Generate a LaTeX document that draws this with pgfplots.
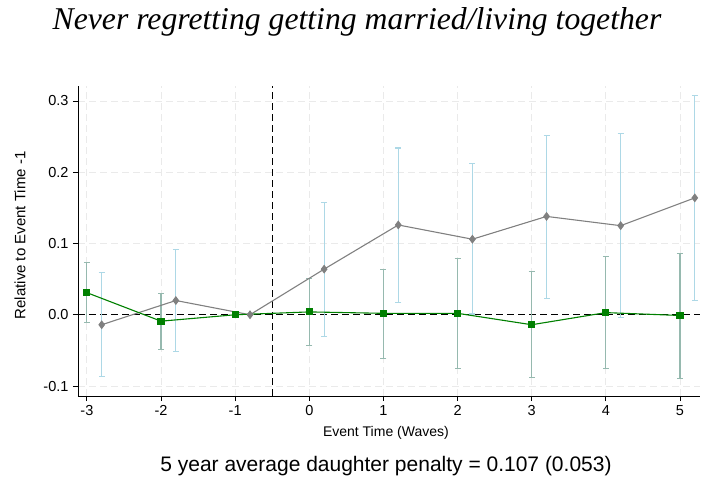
\documentclass[border=0pt]{standalone}
\usepackage{pgfplots}
\pgfplotsset{compat=1.18}
\usepackage{pgfplotstable}
\usepackage{fontspec}
\setmainfont{Liberation Sans}
\newfontfamily\titlefont{Liberation Serif}
\definecolor{gline}{RGB}{0,128,0}
\definecolor{gci}{RGB}{150,185,175}
\definecolor{kline}{RGB}{128,128,128}
\definecolor{kci}{RGB}{173,216,230}
\definecolor{gridc}{RGB}{234,234,234}
\pgfplotstableread{
x y hi lo
-3 0.031 0.073 -0.011
-2 -0.009 0.030 -0.049
0 0.004 0.051 -0.043
1 0.002 0.064 -0.061
2 0.002 0.079 -0.075
3 -0.014 0.061 -0.088
4 0.003 0.082 -0.076
5 -0.001 0.086 -0.089
}\greenci
\pgfplotstableread{
x y
-3 0.031
-2 -0.009
-1 0
0 0.004
1 0.002
2 0.002
3 -0.014
4 0.003
5 -0.001
}\greenpt
\pgfplotstableread{
x y hi lo
-2.8 -0.014 0.059 -0.087
-1.8 0.020 0.091 -0.052
0.2 0.064 0.158 -0.030
1.2 0.126 0.234 0.017
2.2 0.106 0.212 0.001
3.2 0.138 0.252 0.023
4.2 0.125 0.254 -0.004
5.2 0.164 0.308 0.020
}\grayci
\pgfplotstableread{
x y
-2.8 -0.014
-1.8 0.020
-0.8 0
0.2 0.064
1.2 0.126
2.2 0.106
3.2 0.138
4.2 0.125
5.2 0.164
}\graypt
\begin{document}
\begin{tikzpicture}[x=1pt,y=1pt]
\useasboundingbox (0,0) rectangle (701,482);
\node[font=\titlefont\itshape\fontsize{31.7}{36}\selectfont] at (357,460) {Never regretting getting married/living together};
\node[font=\fontsize{21}{24}\selectfont] at (386,16) {5 year average daughter penalty = 0.107 (0.053)};
\begin{axis}[
  at={(78pt,86pt)}, anchor=south west,
  scale only axis, width=622pt, height=310pt,
  xmin=-3.12, xmax=5.27, ymin=-0.114, ymax=0.321,
  axis x line*=bottom, axis y line*=left,
  axis line style={black, line width=0.9pt},
  xtick={-3,...,5}, ytick={-0.1,0,0.1,0.2,0.3},
  yticklabel style={xshift=-1pt, /pgf/number format/.cd, fixed, fixed zerofill, precision=1},
  /pgf/number format/assume math mode=true,
  tick style={black, line width=0.8pt},
  tick align=outside, major tick length=5pt,
  ticklabel style={font=\fontsize{14.5}{17}\selectfont},
  xticklabel style={yshift=-1pt},
  grid=major, major grid style={gridc, dashed, dash pattern=on 7pt off 4pt, line width=0.8pt},
  xlabel={Event Time (Waves)}, ylabel={Relative to Event Time -1},
  xlabel style={font=\fontsize{14}{16}\selectfont, at={(axis description cs:0.495,0)}, anchor=center, yshift=-37pt},
  ylabel style={font=\fontsize{15}{17}\selectfont, at={(axis description cs:-0.0932,0.518)}, anchor=center},
  clip=false,
]
\addplot[black, dashed, dash pattern=on 7pt off 4pt, line width=0.9pt, forget plot] coordinates {(-3.12,0) (5.27,0)};
\addplot[black, dashed, dash pattern=on 7pt off 4pt, line width=0.9pt, forget plot] coordinates {(-0.5,-0.114) (-0.5,0.321)};
\addplot[draw=none, mark=none,
  error bars/.cd, y dir=both, y explicit,
  error bar style={gci, line width=1.1pt},
  error mark options={gci, line width=1.1pt, mark size=3pt, rotate=90}]
  table[x=x, y=y, y error plus expr=\thisrow{hi}-\thisrow{y}, y error minus expr=\thisrow{y}-\thisrow{lo}] {\greenci};
\addplot[draw=none, mark=none,
  error bars/.cd, y dir=both, y explicit,
  error bar style={kci, line width=1.1pt},
  error mark options={kci, line width=1.1pt, mark size=3pt, rotate=90}]
  table[x=x, y=y, y error plus expr=\thisrow{hi}-\thisrow{y}, y error minus expr=\thisrow{y}-\thisrow{lo}] {\grayci};
\addplot[kline, line width=1.1pt, mark=diamond*, mark size=3.6pt, mark options={fill=kline, draw=kline}] table[x=x,y=y] {\graypt};
\addplot[gline, line width=1.1pt, mark=square*, mark size=3pt, mark options={fill=gline, draw=gline}] table[x=x,y=y] {\greenpt};
\end{axis}
\end{tikzpicture}
\end{document}
